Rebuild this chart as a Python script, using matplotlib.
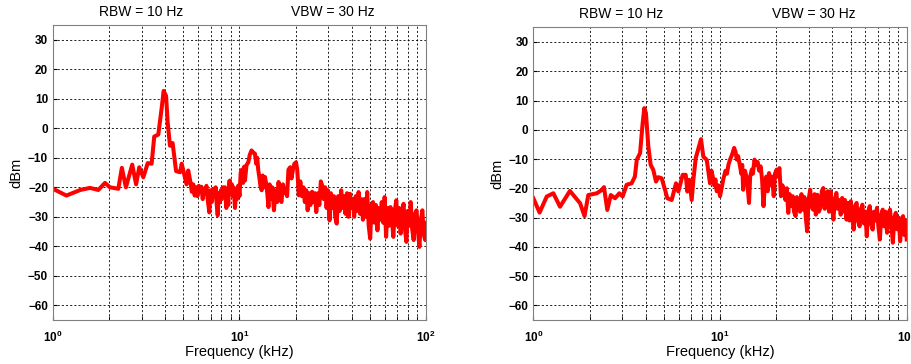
import numpy as np
import matplotlib
matplotlib.use("Agg")
from matplotlib import pyplot as plt
from matplotlib.ticker import LogLocator, NullFormatter

plt.rcParams['font.family'] = ['Liberation Sans', 'DejaVu Sans']

# left spectrum, 1 - 14 kHz (frequency in kHz, level in dBm)
freq_a_low = [1.0, 1.18, 1.40, 1.58, 1.75, 1.90, 2.02, 2.24, 2.34, 2.46, 2.66, 2.79, 2.90,
              3.05, 3.22, 3.38, 3.49, 3.67, 3.83, 3.92, 4.04, 4.12, 4.24, 4.38, 4.57, 4.80,
              4.90, 5.10, 5.2, 5.31, 5.45, 5.55, 5.65, 5.75, 5.84, 5.95, 6.05, 6.14, 6.25,
              6.35, 6.45, 6.53, 6.65, 6.75, 6.89, 7.0, 7.1, 7.24, 7.35, 7.45, 7.55, 7.64,
              7.75, 7.85, 7.95, 8.03, 8.15, 8.25, 8.36, 8.5, 8.6, 8.71, 8.8, 8.89, 9.0, 9.1,
              9.20, 9.3, 9.46, 9.6, 9.7, 9.86, 10.0, 10.15, 10.3, 10.45, 10.6, 10.7, 10.9,
              11.15, 11.35, 11.6, 11.85, 12.1, 12.3, 12.45, 12.6, 12.8, 12.95, 13.15, 13.3,
              13.5, 13.7]
level_a_low = [-20.5, -22.8, -20.9, -20.2, -20.9, -18.5, -20.0, -20.5, -13.4, -20.0, -12.3,
               -19.0, -13.2, -16.6, -11.8, -12.0, -2.8, -2.1, 7.1, 12.7, 11.0, 2.0, -5.9,
               -5.0, -14.5, -14.9, -12.0, -16.8, -19.0, -14.3, -18.0, -21.5, -19.0, -22.8,
               -20.0, -23.0, -19.5, -21.5, -19.8, -24.0, -20.5, -22.0, -19.5, -24.0, -28.5,
               -21.0, -25.0, -20.5, -23.0, -20.0, -26.0, -29.5, -22.0, -25.0, -21.0, -24.0,
               -20.0, -23.0, -20.0, -27.0, -22.0, -26.0, -18.0, -17.7, -22.0, -19.0, -23.0,
               -20.0, -27.0, -21.0, -24.0, -19.4, -23.0, -15.0, -14.0, -18.5, -13.0, -17.7,
               -12.5, -11.5, -9.0, -7.5, -8.2, -8.6, -12.0, -10.0, -14.0, -17.0, -19.5,
               -21.0, -16.0, -20.0, -16.5]

# right spectrum, 1 - 14 kHz
freq_b_low = [1.0, 1.08, 1.18, 1.28, 1.39, 1.57, 1.78, 1.88, 1.97, 2.19, 2.32, 2.39, 2.49,
              2.60, 2.74, 2.89, 3.01, 3.16, 3.36, 3.50, 3.58, 3.73, 3.85, 3.93, 4.01, 4.13,
              4.25, 4.39, 4.54, 4.67, 4.87, 5.08, 5.22, 5.51, 5.81, 5.98, 6.31, 6.55, 6.68,
              6.85, 7.05, 7.20, 7.41, 7.75, 7.91, 8.14, 8.49, 8.84, 9.0, 9.14, 9.3, 9.45,
              9.6, 9.8, 10.0, 10.2, 10.4, 10.7, 10.9, 11.1, 11.35, 11.6, 11.9, 12.1, 12.3,
              12.5, 12.8, 13.0, 13.15, 13.3, 13.6, 13.9]
level_b_low = [-23.4, -28.3, -22.8, -21.7, -26.3, -20.9, -25.1, -29.5, -22.3, -21.7, -20.6,
               -19.6, -27.4, -22.3, -23.4, -21.7, -22.8, -18.8, -18.3, -16.0, -10.3, -8.0,
               2.2, 7.4, 5.7, -5.7, -12.0, -13.7, -17.7, -16.2, -16.6, -20.6, -23.4, -24.0,
               -18.3, -21.1, -15.4, -15.4, -21.1, -17.1, -24.0, -17.1, -9.7, -5.2, -3.2,
               -9.2, -10.3, -18.3, -14.0, -16.0, -19.0, -17.0, -21.0, -19.0, -22.7, -20.0,
               -17.0, -14.0, -15.0, -11.9, -10.0, -8.5, -6.2, -7.5, -10.2, -9.0, -12.5,
               -15.0, -12.0, -20.5, -14.0, -16.5]

# 14 - 100 kHz, noisy part of both spectra
freq_hi = [14.0, 14.3, 14.5, 14.8, 15.0, 15.3, 15.6, 15.9, 16.2, 16.5, 16.8, 17.1, 17.4,
           17.7, 18.0, 18.3, 18.7, 19.0, 19.4, 19.7, 20.1, 20.4, 20.8, 21.2, 21.6, 22.0,
           22.4, 22.8, 23.2, 23.6, 24.0, 24.5, 24.9, 25.4, 25.8, 26.3, 26.8, 27.3, 27.8,
           28.3, 28.8, 29.3, 29.8, 30.4, 30.9, 31.5, 32.1, 32.6, 33.2, 33.8, 34.5, 35.1,
           35.7, 36.4, 37.0, 37.7, 38.4, 39.1, 39.8, 40.5, 41.2, 42.0, 42.7, 43.5, 44.3,
           45.1, 45.9, 46.7, 47.6, 48.4, 49.3, 50.2, 51.1, 52.0, 53.0, 53.9, 54.9, 55.9,
           56.9, 57.9, 59.0, 60.0, 61.1, 62.2, 63.4, 64.5, 65.7, 66.8, 68.0, 69.3, 70.5,
           71.8, 73.1, 74.4, 75.8, 77.1, 78.5, 79.9, 81.4, 82.8, 84.3, 85.9, 87.4, 89.0,
           90.6, 92.2, 93.9, 95.6, 97.3, 99.0, 100.0]
level_a_hi = [-20.0, -26.7, -19.0, -24.0, -20.0, -27.8, -21.0, -25.0, -18.2, -24.0, -25.0,
              -19.0, -22.0, -20.5, -23.0, -14.0, -13.2, -17.0, -13.5, -12.0, -11.5, -14.0,
              -22.7, -18.0, -23.0, -20.0, -25.0, -21.0, -27.8, -22.0, -26.0, -21.5, -25.0,
              -22.0, -28.4, -22.0, -26.0, -18.0, -19.5, -24.0, -20.0, -27.0, -21.0, -31.2,
              -22.0, -27.0, -23.0, -30.0, -32.3, -23.0, -28.0, -21.0, -27.0, -23.0, -29.0,
              -22.0, -30.0, -22.2, -27.0, -24.0, -30.0, -23.0, -28.0, -21.6, -29.0, -24.0,
              -31.0, -24.0, -30.0, -21.6, -33.0, -37.4, -26.0, -25.0, -32.0, -26.0, -34.6,
              -27.0, -31.0, -25.0, -32.0, -23.3, -36.8, -27.0, -33.0, -26.7, -31.0, -36.8,
              -28.0, -24.4, -33.0, -27.0, -35.7, -29.0, -25.6, -34.0, -38.5, -28.0, -33.0,
              -25.0, -34.0, -37.9, -29.0, -27.8, -35.0, -40.2, -31.0, -27.8, -36.0, -37.9,
              -32.0]
level_b_hi = [-18.0, -25.0, -16.0, -13.6, -15.0, -10.2, -12.0, -11.0, -14.0, -12.5, -17.0,
              -26.1, -18.0, -16.0, -21.0, -14.8, -19.0, -16.0, -22.7, -15.0, -13.6, -16.0,
              -13.1, -22.7, -19.0, -21.0, -24.0, -20.0, -28.4, -22.0, -26.0, -22.7, -28.0,
              -29.5, -23.0, -24.4, -28.0, -22.0, -27.3, -23.0, -30.0, -34.7, -24.0, -20.5,
              -26.0, -27.3, -22.0, -29.0, -22.2, -28.0, -26.7, -21.0, -19.9, -27.0, -25.0,
              -21.0, -28.0, -21.0, -26.0, -30.7, -24.0, -21.6, -27.0, -24.0, -29.0, -23.3,
              -28.0, -24.0, -30.7, -25.0, -31.0, -24.4, -30.0, -34.1, -26.0, -25.0, -31.0,
              -33.0, -27.0, -25.6, -32.0, -28.0, -36.4, -28.0, -26.1, -32.0, -34.1, -28.0,
              -31.0, -26.7, -33.0, -37.5, -29.0, -27.3, -33.0, -28.0, -35.2, -29.0, -27.3,
              -33.0, -38.6, -30.0, -28.4, -34.0, -30.0, -38.1, -31.0, -29.5, -36.0, -31.0,
              -37.5]

y_ticks = [-60, -50, -40, -30, -20, -10, 0, 10, 20, 30]

fig = plt.figure(figsize=(9.12, 3.64), dpi=100)
ax1 = fig.add_axes([0.0581, 0.1209, 0.409, 0.810])
ax2 = fig.add_axes([0.5848, 0.1209, 0.4094, 0.804])

panels = [(ax1, freq_a_low + freq_hi, level_a_low + level_a_hi),
          (ax2, freq_b_low + freq_hi, level_b_low + level_b_hi)]

for ax, f, lv in panels:
    ax.plot(f, lv, color='#ff0000', linewidth=2.9)
    ax.set_xscale('log')
    ax.set_xlim(1, 100)
    ax.set_ylim(-65, 35)
    ax.set_yticks(y_ticks)
    ax.xaxis.set_minor_locator(LogLocator(base=10, subs=np.arange(2, 10)))
    ax.xaxis.set_minor_formatter(NullFormatter())
    ax.grid(True, which='both', color='black', linestyle=(0, (2.5, 2.5)), linewidth=0.6)
    ax.tick_params(which='both', direction='in', length=3, labelsize=8.5)
    ax.tick_params(axis='x', pad=7)
    for lab in ax.get_yticklabels() + ax.get_xticklabels():
        lab.set_fontweight('bold')
    for s in ax.spines.values():
        s.set_color('#808080')
    ax.set_xlabel('Frequency (kHz)', fontsize=10.5, labelpad=0)
    ax.set_ylabel('dBm', fontsize=10.5, labelpad=3)
    ax.text(0.236, 1.02, 'RBW = 10 Hz', transform=ax.transAxes, ha='center', va='bottom', fontsize=10)
    ax.text(0.75, 1.02, 'VBW = 30 Hz', transform=ax.transAxes, ha='center', va='bottom', fontsize=10)

fig.savefig('out.png', dpi=100)
